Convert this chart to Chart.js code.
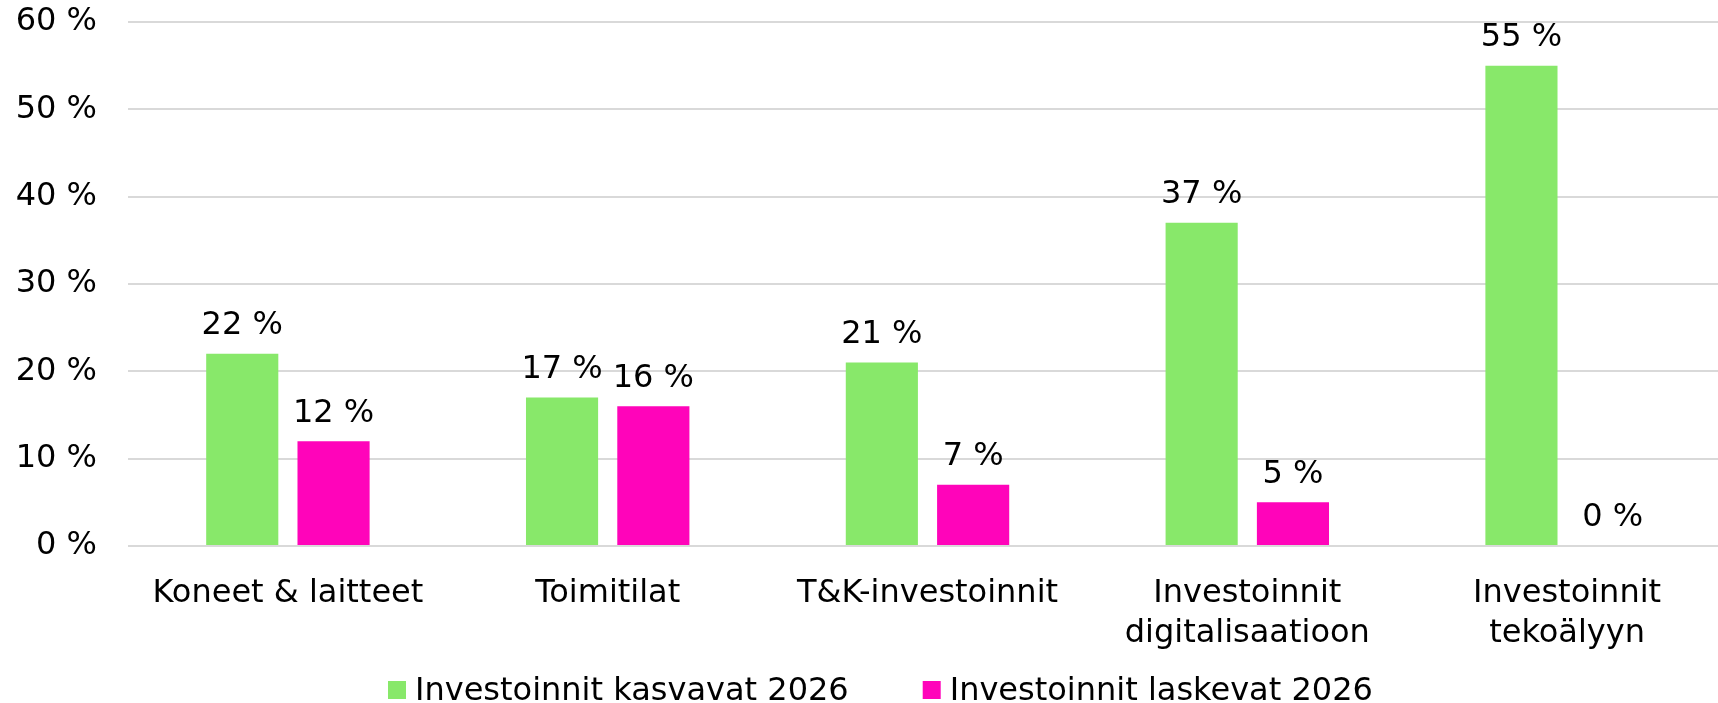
<!DOCTYPE html>
<html>
<head>
<meta charset="utf-8">
<script src="https://cdn.jsdelivr.net/npm/chart.js@4"></script>
<style>
  html, body { margin: 0; padding: 0; background: #ffffff; overflow: hidden; }
  #wrap { width: 1718px; height: 703px; overflow: hidden; }
</style>
</head>
<body>
<div id="wrap"><canvas id="chart" width="1727" height="703"></canvas></div>
<script>
// Investment outlook by type: share of respondents expecting increase / decrease
const categories = [
  'Koneet & laitteet',
  'Toimitilat',
  'T&K-investoinnit',
  ['Investoinnit', 'digitalisaatioon'],
  ['Investoinnit', 'tekoälyyn']
];
const seriesNames = ['Investoinnit kasvavat 2026', 'Investoinnit laskevat 2026'];
const increasing = [22, 17, 21, 37, 55];
const decreasing = [12, 16, 7, 5, 0];
const yTickValues = [0, 10, 20, 30, 40, 50, 60];

const GREEN = '#88e86a';
const PINK = '#ff04ba';
const GRID = '#d9d9d9';
const FONT = '"DejaVu Sans", Verdana, sans-serif';
const FONT_SIZE = 32;

const pct = v => v + ' %';

// Value labels above each bar, positioned from the bar elements
const valueLabels = {
  id: 'valueLabels',
  afterDatasetsDraw(chart) {
    const ctx = chart.ctx;
    ctx.save();
    ctx.font = FONT_SIZE + 'px ' + FONT;
    ctx.fillStyle = '#000000';
    ctx.textAlign = 'center';
    ctx.textBaseline = 'middle';
    chart.data.datasets.forEach((ds, i) => {
      const meta = chart.getDatasetMeta(i);
      meta.data.forEach((bar, j) => {
        ctx.fillText(pct(ds.data[j]), bar.x, bar.y - 28);
      });
    });
    ctx.restore();
  }
};

// Legend row along the bottom edge with small square markers
const bottomLegend = {
  id: 'bottomLegend',
  afterDraw(chart) {
    const ctx = chart.ctx;
    ctx.save();
    ctx.font = FONT_SIZE + 'px ' + FONT;
    ctx.textBaseline = 'alphabetic';
    ctx.textAlign = 'left';
    const box = 18, boxGap = 9, itemGap = 74, centerX = 880;
    const items = chart.data.datasets.map(ds => ({
      label: ds.label, color: ds.backgroundColor,
      w: box + boxGap + ctx.measureText(ds.label).width
    }));
    const total = items.reduce((s, it) => s + it.w, 0) + itemGap * (items.length - 1);
    let x = Math.round(centerX - total / 2);
    const baseY = 700;
    items.forEach(it => {
      ctx.fillStyle = it.color;
      ctx.fillRect(x, 681, box, box);
      ctx.fillStyle = '#000000';
      ctx.fillText(it.label, x + box + boxGap, baseY);
      x += it.w + itemGap;
    });
    ctx.restore();
  }
};

new Chart(document.getElementById('chart'), {
  type: 'bar',
  data: {
    labels: categories,
    datasets: [
      { label: seriesNames[0], data: increasing, backgroundColor: GREEN },
      { label: seriesNames[1], data: decreasing, backgroundColor: PINK }
    ]
  },
  options: {
    responsive: false,
    animation: false,
    devicePixelRatio: 1,
    layout: { padding: { top: 22, right: 0, left: 0, bottom: 0 } },
    datasets: {
      bar: { categoryPercentage: 0.571, barPercentage: 0.79 }
    },
    plugins: {
      legend: { display: false },
      tooltip: { enabled: false }
    },
    scales: {
      x: {
        grid: { display: false, drawTicks: false },
        border: { display: false },
        ticks: {
          color: '#000000',
          font: { family: FONT, size: FONT_SIZE, lineHeight: 1.25 },
          padding: 28,
          maxRotation: 0,
          autoSkip: false
        },
        afterFit(scale) {
          scale.height = 157;
          scale.paddingLeft = 0;
          scale.paddingRight = 0;
        }
      },
      y: {
        min: 0,
        max: 60,
        afterBuildTicks(scale) {
          scale.ticks = yTickValues.map(v => ({ value: v }));
        },
        grid: { color: GRID, lineWidth: 2, drawTicks: false },
        border: { display: false },
        ticks: {
          color: '#000000',
          font: { family: FONT, size: FONT_SIZE },
          padding: 31,
          callback: v => pct(v)
        },
        afterFit(scale) {
          scale.width = 128;
          scale.paddingTop = 0;
          scale.paddingBottom = 0;
        }
      }
    }
  },
  plugins: [valueLabels, bottomLegend]
});
</script>
</body>
</html>
